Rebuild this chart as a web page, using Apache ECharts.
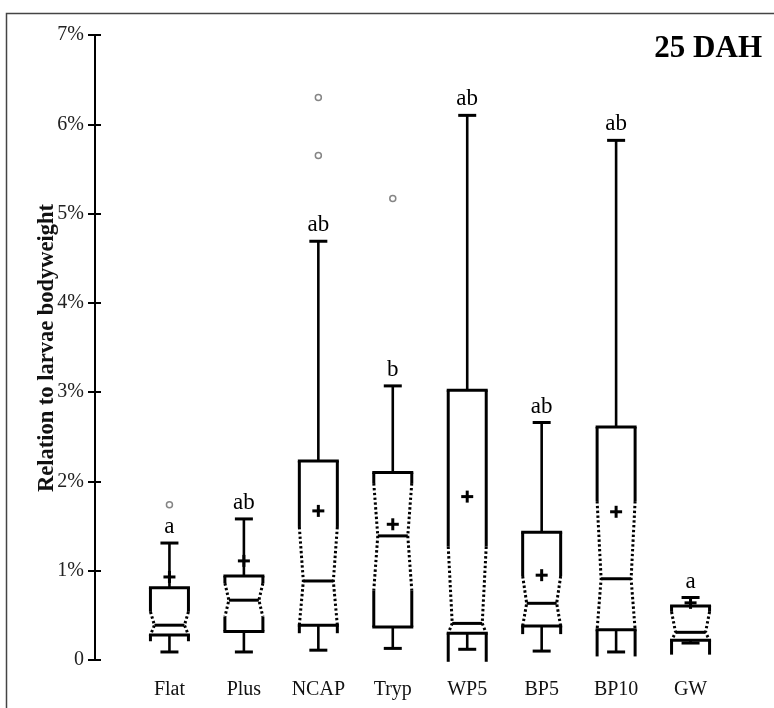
<!DOCTYPE html>
<html>
<head>
<meta charset="utf-8">
<script src="https://cdn.jsdelivr.net/npm/echarts@6/dist/echarts.min.js"></script>
<style>
html,body{margin:0;padding:0;background:#fff;}
#chart{width:774px;height:708px;}
</style>
</head>
<body>
<div id="chart"></div>
<script>
// ---- data (values in % of larvae bodyweight) ----
const categories = ['Flat', 'Plus', 'NCAP', 'Tryp', 'WP5', 'BP5', 'BP10', 'GW'];
const whiskerLow  = [0.09, 0.09, 0.11, 0.13, 0.12, 0.10, 0.09, 0.19];
const q1          = [0.28, 0.32, 0.39, 0.37, 0.30, 0.38, 0.34, 0.22];
const median      = [0.39, 0.67, 0.885, 1.39, 0.41, 0.635, 0.91, 0.31];
const q3          = [0.81, 0.94, 2.23, 2.10, 3.02, 1.43, 2.61, 0.605];
const whiskerHigh = [1.31, 1.58, 4.69, 3.07, 6.10, 2.66, 5.82, 0.70];
const mean        = [0.93, 1.11, 1.67, 1.52, 1.83, 0.95, 1.66, 0.64];
const notchHigh   = [0.54, 0.86, 1.49, 1.98, 1.27, 0.94, 1.78, 0.54];
const notchLow    = [0.21, 0.485, 0.30, 0.78, -0.02, 0.29, 0.04, 0.06];
const letters     = ['a', 'ab', 'ab', 'b', 'ab', 'ab', 'ab', 'a'];
const outlierCat  = [0, 2, 2, 3];
const outlierVal  = [1.74, 6.30, 5.65, 5.17];
const yTicks      = [0, 1, 2, 3, 4, 5, 6, 7];
const yTitle      = 'Relation to larvae bodyweight';
const chartTitle  = '25 DAH';

const boxData = categories.map((c, i) => [i, whiskerLow[i], q1[i], median[i], q3[i], whiskerHigh[i], notchLow[i], notchHigh[i], mean[i]]);
const outlierData = outlierCat.map((c, i) => [c, outlierVal[i]]);

const SERIF = '"Liberation Serif", "DejaVu Serif", serif';
const chart = echarts.init(document.getElementById('chart'), null, {renderer: 'canvas'});

function renderBox(params, api) {
  const x = api.value(0);
  const wl = api.value(1), lq = api.value(2), md = api.value(3), uq = api.value(4), wh = api.value(5);
  const nl = api.value(6), nh = api.value(7), mn = api.value(8);
  const cx = api.coord([x, 0])[0];
  const Y = v => api.coord([x, v])[1];
  const hw = 19, inset = 4, cap = 9;
  const solid = {stroke: '#000', lineWidth: 3, fill: null, lineCap: 'butt'};
  const dotted = {stroke: '#000', lineWidth: 3, fill: null, lineDash: [2.4, 2.4]};
  const ch = [];
  const line = (x1, y1, x2, y2, st) => ch.push({type: 'line', shape: {x1, y1, x2, y2}, style: st});
  // whiskers
  line(cx, Y(uq), cx, Y(wh), {stroke: '#000', lineWidth: 2.6});
  line(cx - cap, Y(wh), cx + cap, Y(wh), {stroke: '#000', lineWidth: 3});
  line(cx, Y(lq), cx, Y(wl), {stroke: '#000', lineWidth: 2.6});
  line(cx - cap, Y(wl), cx + cap, Y(wl), {stroke: '#000', lineWidth: 3});
  // Q3 line
  line(cx - hw - 1.5, Y(uq), cx + hw + 1.5, Y(uq), solid);
  const nTop = Math.min(nh, uq);
  line(cx - hw, Y(uq), cx - hw, Y(nTop), solid);
  line(cx + hw, Y(uq), cx + hw, Y(nTop), solid);
  // dotted notch
  const lowEnd = Math.max(nl, lq);
  [-1, 1].forEach(s => {
    ch.push({type: 'polyline', shape: {points: [[cx + s * hw, Y(nTop)], [cx + s * (hw - inset), Y(md)], [cx + s * hw, Y(lowEnd)]]}, style: dotted});
  });
  if (nl > lq) {
    line(cx - hw, Y(nl), cx - hw, Y(lq), solid);
    line(cx + hw, Y(nl), cx + hw, Y(lq), solid);
  }
  // Q1 line
  line(cx - hw - 1.5, Y(lq), cx + hw + 1.5, Y(lq), solid);
  if (nl < lq) {
    line(cx - hw, Y(lq), cx - hw, Y(nl), solid);
    line(cx + hw, Y(lq), cx + hw, Y(nl), solid);
  }
  // median
  line(cx - hw + inset, Y(md), cx + hw - inset, Y(md), solid);
  // mean +
  const my = Y(mn);
  line(cx - 6, my, cx + 6, my, {stroke: '#000', lineWidth: 3});
  line(cx, my - 6, cx, my + 6, {stroke: '#000', lineWidth: 3});
  // significance letter
  ch.push({type: 'text', style: {text: letters[params.dataIndex], x: cx, y: Y(wh) - 16, align: 'center', verticalAlign: 'middle', font: '23px ' + SERIF, fill: '#000'}});
  return {type: 'group', children: ch};
}

const option = {
  backgroundColor: '#fff',
  animation: false,
  grid: {left: 95, right: 9, top: 35, bottom: 48, containLabel: false},
  xAxis: {
    type: 'value', min: -1, max: 8, interval: 1,
    axisLine: {show: false}, axisTick: {show: false}, splitLine: {show: false},
    axisLabel: {
      margin: 20, color: '#111', fontFamily: SERIF, fontSize: 20,
      formatter: v => (v >= 0 && v < categories.length && Number.isInteger(v)) ? categories[v] : ''
    }
  },
  yAxis: [{
    type: 'value', min: 0, max: 7, interval: 1,
    axisLine: {show: true, onZero: false, lineStyle: {color: '#000', width: 2}},
    axisTick: {show: true, length: 7, lineStyle: {color: '#000', width: 2}},
    splitLine: {show: false},
    axisLabel: {margin: 11, color: '#222', fontFamily: SERIF, fontSize: 20,
      formatter: v => yTicks.includes(v) ? (v === 0 ? '0' : v + '%') : ''}
  }, {
    type: 'value', min: 0, max: 7, interval: 1, position: 'left',
    axisLine: {show: false, onZero: false},
    axisTick: {show: true, inside: true, length: 6, lineStyle: {color: '#000', width: 2}},
    axisLabel: {show: false}, splitLine: {show: false}
  }],
  graphic: [
    {type: 'rect', shape: {x: 6.5, y: 13.5, width: 820, height: 800}, style: {fill: null, stroke: '#444', lineWidth: 1.5}, silent: true},
    {type: 'text', right: 12, top: 33, style: {text: chartTitle, font: 'bold 31px ' + SERIF, fill: '#000'}},
    {type: 'text', x: 47, y: 348, rotation: Math.PI / 2,
      style: {text: yTitle, font: 'bold 22.5px ' + SERIF, fill: '#111', align: 'center', verticalAlign: 'middle'}}
  ],
  series: [
    {type: 'custom', renderItem: renderBox, data: boxData, encode: {x: 0, y: [1, 5]}, clip: false, z: 3},
    {type: 'scatter', data: outlierData, symbol: 'circle', symbolSize: 6,
      itemStyle: {color: '#fff', borderColor: '#666', borderWidth: 1.5}, z: 4}
  ]
};
chart.setOption(option);
</script>
</body>
</html>
